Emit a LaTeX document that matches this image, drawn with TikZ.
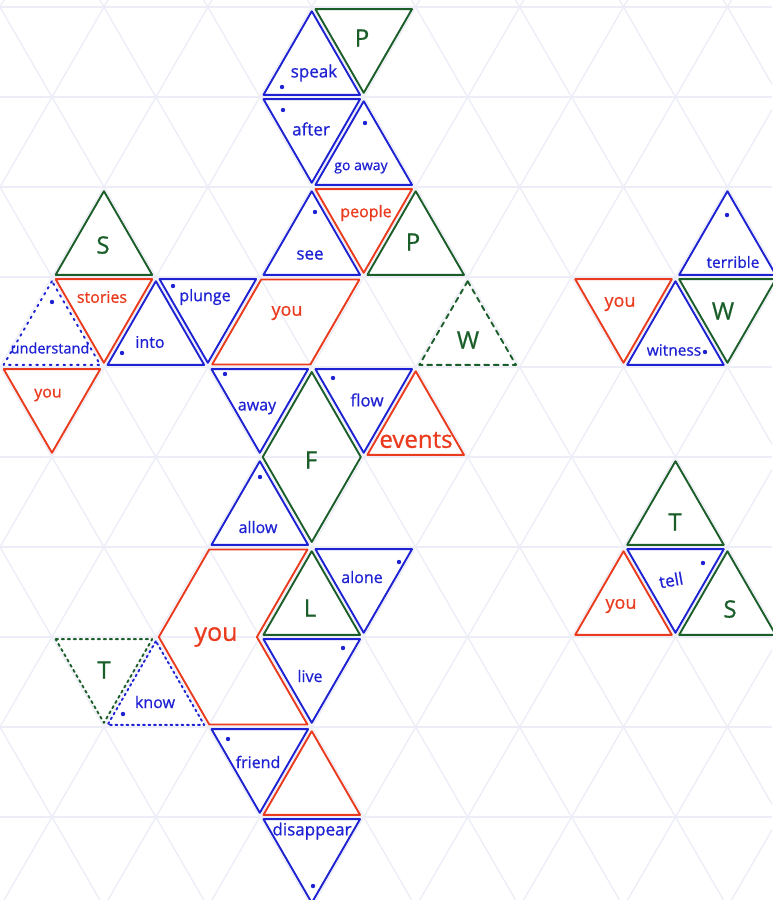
\documentclass[tikz,border=0pt]{standalone}
\usepackage{fontspec}
\setmainfont{Open Sans}
\newfontfamily\hand{Open Sans}[FakeBold=0.8]
\definecolor{gridc}{HTML}{EDEDF8}
\definecolor{bl}{HTML}{1E22D2}
\definecolor{rd}{HTML}{EB3B1E}
\definecolor{gn}{HTML}{1B5E2A}
\def\shr{0.93}
\def\hs{51.96}
\newcommand\UpT[2]{({\hs*(#1)},{7+90*(#2)+60-60*\shr}) -- ({\hs*(#1)-\hs*\shr},{7+90*(#2)+60+30*\shr}) -- ({\hs*(#1)+\hs*\shr},{7+90*(#2)+60+30*\shr}) -- cycle}
\newcommand\DnT[2]{({\hs*(#1)-\hs*\shr},{7+90*(#2)+30-30*\shr}) -- ({\hs*(#1)+\hs*\shr},{7+90*(#2)+30-30*\shr}) -- ({\hs*(#1)},{7+90*(#2)+30+60*\shr}) -- cycle}
\newcommand\fs[1]{\hand\fontsize{#1}{#1}\selectfont}
\tikzset{
  gridline/.style={draw=gridc, line width=1.3pt},
  sh/.style={line width=1.9pt, line join=round, line cap=round},
  bsh/.style={sh, draw=bl},
  rsh/.style={sh, draw=rd},
  gsh/.style={sh, draw=gn},
  lab/.style={inner sep=0pt, font=\fs{16}},
  blab/.style={lab, text=bl},
  rlab/.style={lab, text=rd},
  glet/.style={inner sep=0pt, text=gn, font=\fs{24}},
  dotm/.style={circle, fill=bl, inner sep=0pt, minimum size=4.4pt}
}
\begin{document}
\begin{tikzpicture}[x=1pt, y=-1pt]
\useasboundingbox (0,0) rectangle (772,900);
\fill[white] (0,0) rectangle (772,900);
\begin{scope}
\clip (0,0) rectangle (772,900);
\foreach \k in {0,...,10} \draw[gridline] (0,{7+90*\k}) -- (772,{7+90*\k});
\foreach \k in {-6,...,13} {
  \draw[gridline] ({103.92*\k-\hs},{7-90}) -- ({103.92*\k+\hs*11},{7+90*11});
  \draw[gridline] ({103.92*\k+\hs},{7-90}) -- ({103.92*\k-\hs*11},{7+90*11});
}
\end{scope}
% row 0
\draw[bsh] \UpT{6}{0};
\draw[gsh] \DnT{7}{0};
% row 1
\draw[bsh] \DnT{6}{1};
\draw[bsh] \UpT{7}{1};
% row 2
\draw[bsh] \UpT{6}{2};
\draw[rsh] \DnT{7}{2};
\draw[gsh] \UpT{8}{2};
\draw[gsh] \UpT{2}{2};
\draw[bsh] \UpT{14}{2};
% row 3
\draw[rsh] \DnT{2}{3};
\draw[bsh, dash pattern=on 1.8pt off 5pt] \UpT{1}{3};
\draw[bsh] \UpT{3}{3};
\draw[bsh] \DnT{4}{3};
\draw[rsh] ({5*\hs+1.4},279.5) -- ({7*\hs-4.3},279.5) -- ({6*\hs-1.4},364.5) -- ({4*\hs+4.3},364.5) -- cycle;
\draw[gsh, dash pattern=on 5pt off 4.5pt] \UpT{9}{3};
\draw[rsh] \DnT{12}{3};
\draw[bsh] \UpT{13}{3};
\draw[gsh] \DnT{14}{3};
% row 4
\draw[rsh] \DnT{1}{4};
\draw[bsh] \DnT{5}{4};
\draw[gsh] ({6*\hs},372) -- ({7*\hs-2.9},457) -- ({6*\hs},542) -- ({5*\hs+2.9},457) -- cycle;
\draw[bsh] \DnT{7}{4};
\draw[rsh] \UpT{8}{4};
% row 5
\draw[bsh] \UpT{5}{5};
\draw[gsh] \UpT{13}{5};
% row 6
\draw[rsh] ({4*\hs+1.4},549.5) -- ({6*\hs-4.3},549.5) -- ({5*\hs-2.9},637) -- ({6*\hs-4.3},724.5) -- ({4*\hs+1.4},724.5) -- ({3*\hs+2.9},637) -- cycle;
\draw[gsh] \UpT{6}{6};
\draw[bsh] \DnT{7}{6};
\draw[bsh] \DnT{13}{6};
\draw[rsh] \UpT{12}{6};
\draw[gsh] \UpT{14}{6};
% row 7
\draw[gsh, dash pattern=on 2.5pt off 3.5pt] \DnT{2}{7};
\draw[bsh, dash pattern=on 2pt off 3.5pt] \UpT{3}{7};
\draw[bsh] \DnT{6}{7};
% row 8
\draw[bsh] \DnT{5}{8};
\draw[rsh] \UpT{6}{8};
% row 9
\draw[bsh] \DnT{6}{9};
% labels
\node[blab, font=\fs{17}] (speak) at (314,73) {speak};
\node[glet] (p1) at (362,38) {P};
\node[blab, font=\fs{17}] (after) at (311,129) {after};
\node[blab, font=\fs{14}] (goaway) at (361,168) {go away};
\node[blab, font=\fs{17}] (see) at (310,255) {see};
\node[rlab] (people) at (366,213) {people};
\node[glet] (p2) at (413,242) {P};
\node[glet] (s1) at (103,245) {S};
\node[rlab] (stories) at (102,297) {stories};
\node[blab, font=\fs{14.5}] (understand) at (50,348) {understand};
\node[blab] (into) at (150,342) {into};
\node[blab] (plunge) at (205,297) {plunge};
\node[rlab, font=\fs{18}] (you1) at (287,313) {you};
\node[glet] (w1) at (468,340) {W};
\node[blab, font=\fs{15.5}] (terrible) at (733,262) {terrible};
\node[rlab, font=\fs{18}] (you2) at (620,304) {you};
\node[blab, font=\fs{15.5}] (witness) at (674,350) {witness};
\node[glet] (w2) at (723,311) {W};
\node[rlab] (you3) at (48,395) {you};
\node[blab] (away) at (257,408) {away};
\node[glet] (f) at (311,460) {F};
\node[blab, font=\fs{17}] (flow) at (367,400) {flow};
\node[rlab, font=\fs{24}] (events) at (416,440) {events};
\node[blab] (allow) at (258,527) {allow};
\node[glet] (t1) at (675,522) {T};
\node[rlab, font=\fs{25}] (you4) at (216,637) {you};
\node[glet] (l) at (310,608) {L};
\node[blab] (alone) at (362,577) {alone};
\node[blab, font=\fs{17}, rotate=10] (tell) at (671,580) {tell};
\node[rlab, font=\fs{18}] (you5) at (621,606) {you};
\node[glet] (s2) at (730,609) {S};
\node[glet] (t2) at (104,670) {T};
\node[blab] (know) at (155,702) {know};
\node[blab] (live) at (310,676) {live};
\node[blab] (friend) at (258,762) {friend};
\node[blab, font=\fs{17}] (disappear) at (312,831) {disappear};
% dots
\node[dotm] (d1) at (282,87) {};
\node[dotm] (d2) at (283,110) {};
\node[dotm] (d3) at (365,123) {};
\node[dotm] (d4) at (315,212) {};
\node[dotm] (d5) at (52,302) {};
\node[dotm] (d6) at (122,353) {};
\node[dotm] (d7) at (173,286) {};
\node[dotm] (d8) at (727,215) {};
\node[dotm] (d9) at (705,352) {};
\node[dotm] (d10) at (225,374) {};
\node[dotm] (d11) at (333,378) {};
\node[dotm] (d12) at (260,477) {};
\node[dotm] (d13) at (399,562) {};
\node[dotm] (d14) at (703,563) {};
\node[dotm] (d15) at (123,714) {};
\node[dotm] (d16) at (343,648) {};
\node[dotm] (d17) at (228,739) {};
\node[dotm] (d18) at (313,886) {};
\end{tikzpicture}
\end{document}
